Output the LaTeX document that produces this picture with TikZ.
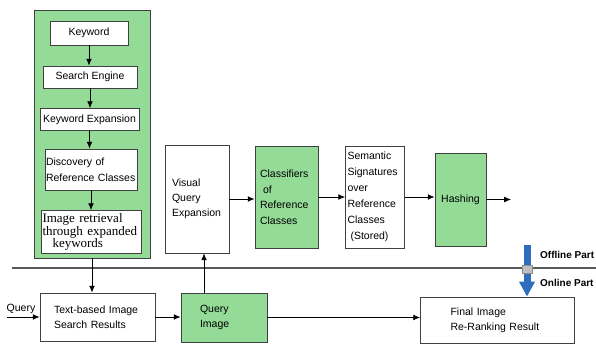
\documentclass[tikz,border=0pt]{standalone}
\usepackage{fontspec}
\setmainfont{Liberation Sans}
\newfontfamily\retrfont{Liberation Serif}
\usepackage{tikz}
\usetikzlibrary{arrows.meta,positioning,calc}
\usepackage{xcolor}
\definecolor{boxgreen}{RGB}{148,219,152}
\definecolor{partblue}{RGB}{46,108,190}

\begin{document}
\begin{tikzpicture}[x=1pt, y=-1pt,
  stepbox/.style={draw=black!75, line width=0.8pt, fill=white, font=\fontsize{10.5}{15}\selectfont, inner sep=1pt, align=center},
  greenbox/.style={stepbox, fill=boxgreen},
  arr/.style={-{Latex[length=2.4mm, width=2mm]}, line width=0.7pt},
  partlabel/.style={font=\fontsize{10}{11}\selectfont\bfseries, anchor=west, inner sep=0pt}
]
\useasboundingbox (0,0) rectangle (596,345);
\node[greenbox, minimum width=116pt, minimum height=248pt] (col) at (92,134) {};
\node[stepbox, minimum width=78pt, minimum height=24pt] (kw) at (89,33) {Keyword};
\node[stepbox, minimum width=94pt, minimum height=22pt] (se) at (90,77) {Search Engine};
\node[stepbox, minimum width=99pt, minimum height=22pt] (ke) at (89.5,119.5) {Keyword Expansion};
\node[stepbox, minimum width=92pt, minimum height=41pt, text width=90pt, align=left, font=\fontsize{10.5}{16}\selectfont] (disc) at (91,169.5) {Discovery of\\Reference Classes};
\node[stepbox, minimum width=100pt, minimum height=43pt, inner sep=0pt, text width=97pt, align=left, font=\retrfont\fontsize{13}{12.5}\selectfont] (ir) at (91,232) {Image retrieval\\through expanded\\\hspace*{10pt}keywords};
\draw[arr] (kw.south) -- (kw.south |- se.north);
\draw[arr] (se.south) -- (se.south |- ke.north);
\draw[arr] (ke.south) -- (ke.south |- disc.north);
\draw[arr] (disc.south) -- (disc.south |- ir.north);

\node[stepbox, minimum width=64pt, minimum height=108pt, text width=50pt, align=left] (vqe) at (197,199) {Visual\\Query\\Expansion};
\node[greenbox, minimum width=63pt, minimum height=102pt, text width=53pt, align=left, font=\fontsize{10.5}{15.5}\selectfont] (cls) at (286.5,197) {Classifiers\\\hspace*{3pt}of\\Reference\\Classes};
\node[stepbox, minimum width=59pt, minimum height=102pt, text width=55pt, align=left, font=\fontsize{10.5}{16}\selectfont] (sem) at (375,197) {Semantic\\Signatures\\over\\Reference\\Classes\\\hspace*{3pt}(Stored)};
\node[greenbox, minimum width=51pt, minimum height=93pt] (hash) at (460.5,199.5) {Hashing};
\coordinate (hashout) at (511,199.5);
\draw[arr] (vqe.east) -- (vqe.east -| cls.west);
\draw[arr] (cls.east) -- (cls.east -| sem.west);
\draw[arr] (sem.east) -- (sem.east -| hash.west);
\draw[arr] (hash.east) -- (hashout);

\coordinate (sepL) at (12,268);
\coordinate (sepR) at (596,268);
\draw[black!65, line width=1.2pt] (sepL) -- (sepR);

\node[stepbox, minimum width=115pt, minimum height=48pt, text width=87pt, align=left] (txt) at (97.5,317) {Text-based Image\\Search Results};
\node[greenbox, minimum width=86pt, minimum height=49pt, text width=48pt, align=left] (qimg) at (224,317.5) {Query\\Image};
\node[stepbox, minimum width=154pt, minimum height=46pt, text width=94pt, align=left] (fin) at (497.5,320) {Final Image\\Re-Ranking Result};
\node[font=\fontsize{10.5}{12}\selectfont, inner sep=0pt] (query) at (21,309) {Query};
\coordinate (qin) at (7,317);
\draw[arr] (qin) -- (qin -| txt.west);
\draw[arr] (col.south) -- (col.south |- txt.north);
\draw[arr] (txt.east) -- (txt.east -| qimg.west);
\draw[arr] (qimg.east) -- (qimg.east -| fin.west);
\coordinate (qup) at ($(qimg.north west)!0.27!(qimg.north east)$);
\draw[arr] (qup) -- (qup |- vqe.south);

\coordinate (bt) at (527,245);
\draw[partblue, line width=7pt, -{Triangle[length=15pt, width=15pt]}] (bt) -- (bt |- fin.north);
\draw[black!45, fill=black!25, line width=0.5pt] (522,265) rectangle (532,273);
\node[partlabel] (offl) at (540,255) {Offline Part};
\node[partlabel] (onl) at (540,283) {Online Part};
\end{tikzpicture}
\end{document}
